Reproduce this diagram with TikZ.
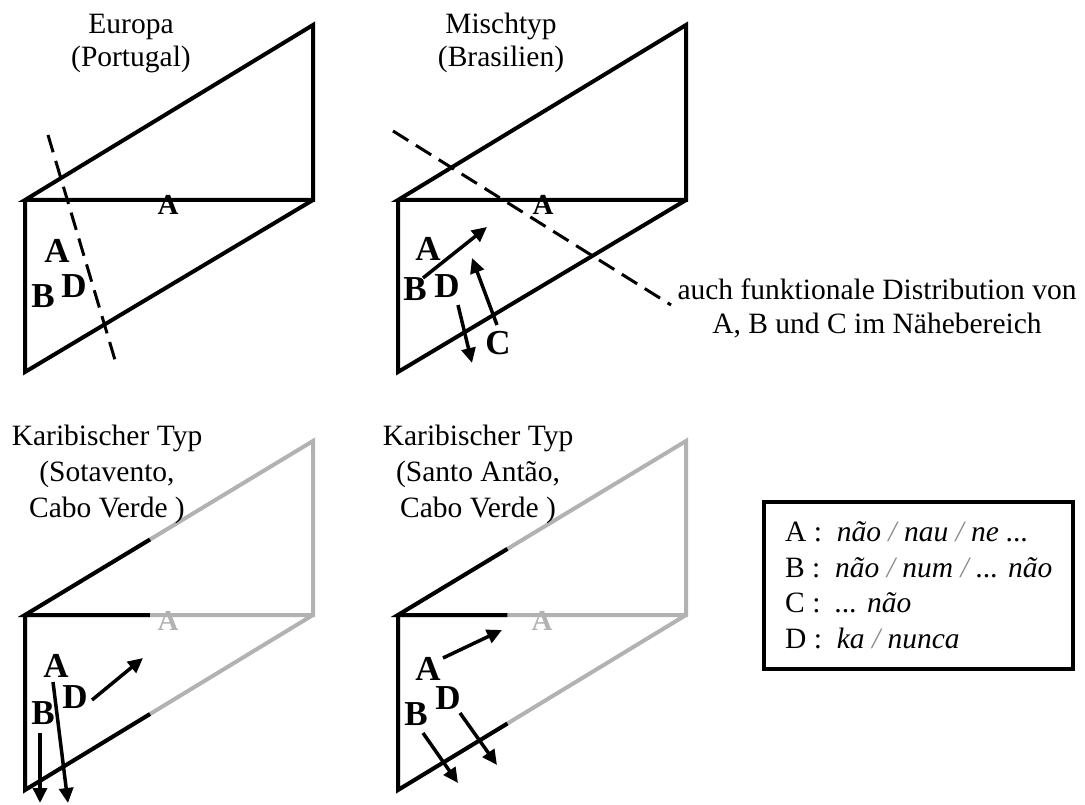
\documentclass[tikz,border=0pt]{standalone}
\usepackage{fontspec}
\setmainfont{Liberation Serif}
\usepackage{tikz}
\usetikzlibrary{calc}
\usetikzlibrary{arrows.meta}
\definecolor{hellgrau}{RGB}{178,178,178}
\newcommand{\strich}{\textcolor{black!45}{/}}

\begin{document}
\begin{tikzpicture}[x=1pt,y=-1pt]
\tikzset{kante/.style={line width=4pt},
  pfeil/.style={line width=3.5pt,-{Triangle[length=15pt,width=14pt]}},
  schnitt/.style={line width=3pt,dash pattern=on 18pt off 9pt},
  titel/.style={font=\fontsize{29.5}{33}\selectfont,align=center,anchor=base,inner sep=0pt},
  buchst/.style={font=\bfseries\fontsize{35}{35}\selectfont,inner sep=0pt},
  klein/.style={font=\bfseries\fontsize{29}{29}\selectfont,inner sep=0pt}}
\useasboundingbox (0,0) rectangle (1085,805);

% Europa (Portugal)
\coordinate (e1) at (25,200);
\coordinate (e2) at (313,25);
\coordinate (e3) at (313,200);
\coordinate (e4) at (25,372);
\draw[kante] (e2) -- (e3) -- (e1) -- cycle (e1) -- (e4) -- (e3);
\coordinate (e5) at (48,135);
\coordinate (e6) at (115,360);
\draw[schnitt] (e5) -- (e6);
\node (et) at (131,67) [titel] {Europa\\(Portugal)};
\node (eA) at (168,205) [klein] {A};
\node (eA2) at (57,251) [buchst] {A};
\node (eB) at (43,296) [buchst] {B};
\node (eD) at (74,286) [buchst] {D};

% Mischtyp (Brasilien)
\coordinate (m1) at (398,200);
\coordinate (m2) at (686,25);
\coordinate (m3) at (686,200);
\coordinate (m4) at (398,372);
\draw[kante] (m2) -- (m3) -- (m1) -- cycle (m1) -- (m4) -- (m3);
\coordinate (m5) at (393,131);
\coordinate (m6) at (671,305);
\draw[schnitt] (m5) -- (m6);
\node (mt) at (501,67) [titel] {Mischtyp\\(Brasilien)};
\node (mA) at (543,205) [klein] {A};
\node (mA2) at (428,249) [buchst] {A};
\node (mB) at (415,289) [buchst] {B};
\node (mD) at (447,286) [buchst] {D};
\node (mC) at (498,343) [buchst] {C};
\coordinate (ma1) at (423,278);
\coordinate (ma2) at (487,227);
\coordinate (mc1) at (497,325);
\coordinate (mc2) at (472,258);
\coordinate (md1) at (458,305);
\coordinate (md2) at (472,363);
\node (hinweis) at (877,334) [titel,font=\fontsize{29.5}{35}\selectfont] {auch funktionale Distribution von\\A, B und C im Nähebereich};

% Karibischer Typ (Sotavento)
\coordinate (s1) at (25,615);
\coordinate (s2) at (313,441);
\coordinate (s3) at (313,615);
\coordinate (s4) at (25,790);
\draw[kante,hellgrau] (s2) -- (s3) -- (s1) -- cycle (s1) -- (s4) -- (s3);
\draw[kante] ($(s1)!0.434!(s2)$) -- (s1) -- ($(s1)!0.434!(s3)$) (s1) -- (s4) -- ($(s4)!0.434!(s3)$);
\node (st) at (107,517) [titel,font=\fontsize{29.5}{36}\selectfont] {Karibischer Typ\\(Sotavento,\\Cabo Verde )};
\node (sA) at (168,621) [klein,text=hellgrau] {A};
\node (sA2) at (56,666) [buchst] {A};
\node (sD) at (75,697) [buchst] {D};
\node (sB) at (43,713) [buchst] {B};
\coordinate (sd1) at (92,700);
\coordinate (sd2) at (143,658);
\coordinate (sb1) at (40,733);
\coordinate (sb2) at (40,803);
\coordinate (sa1) at (53,682);
\coordinate (sa2) at (68,803);

% Karibischer Typ (Santo Antao)
\coordinate (a1) at (398,615);
\coordinate (a2) at (686,441);
\coordinate (a3) at (686,615);
\coordinate (a4) at (398,790);
\draw[kante,hellgrau] (a2) -- (a3) -- (a1) -- cycle (a1) -- (a4) -- (a3);
\draw[kante] ($(a1)!0.38!(a2)$) -- (a1) -- ($(a1)!0.38!(a3)$) (a1) -- (a4) -- ($(a4)!0.38!(a3)$);
\node (at) at (478,517) [titel,font=\fontsize{29.5}{36}\selectfont] {Karibischer Typ\\(Santo Antão,\\Cabo Verde )};
\node (aA) at (542,621) [klein,text=hellgrau] {A};
\node (aA2) at (428,669) [buchst] {A};
\node (aD) at (448,698) [buchst] {D};
\node (aB) at (416,714) [buchst] {B};
\coordinate (aa1) at (443,658);
\coordinate (aa2) at (502,630);
\coordinate (ab1) at (423,733);
\coordinate (ab2) at (458,783);
\coordinate (ad1) at (460,713);
\coordinate (ad2) at (497,765);

\path[pfeil]
(ma1) edge (ma2)
(mc1) edge (mc2)
(md1) edge (md2)
(sd1) edge (sd2)
(sb1) edge (sb2)
(sa1) edge (sa2)
(aa1) edge (aa2)
(ab1) edge (ab2)
(ad1) edge (ad2);

% Legende
\node (legende) at (762,500) [draw,line width=3.5pt,anchor=north west,minimum width=309pt,minimum height=167pt] {};
\node (liste) at (785,648) [anchor=base west,align=left,inner sep=0pt,font=\fontsize{29.5}{35.5}\selectfont] {A :\ \ \textit{não \strich{} nau \strich{} ne ...}\\B :\ \ \textit{não \strich{} num \strich{} ... não}\\C :\ \ \textit{... não}\\D :\ \ \textit{ka \strich{} nunca}};

\end{tikzpicture}
\end{document}
